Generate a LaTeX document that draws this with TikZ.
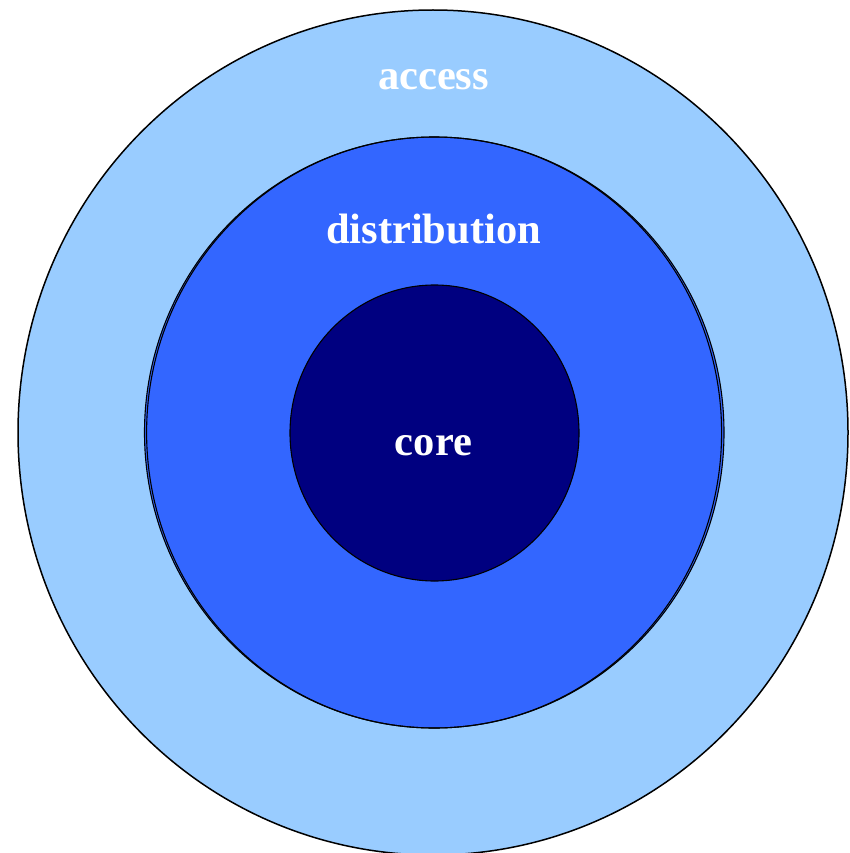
\documentclass[tikz,border=0pt]{standalone}
\usepackage{fontspec}
\setmainfont{Liberation Serif}
\usetikzlibrary{shapes.geometric}
\definecolor{accessblue}{HTML}{99CCFF}
\definecolor{distblue}{HTML}{3366FF}
\definecolor{corenavy}{HTML}{000080}
\begin{document}
\begin{tikzpicture}[x=1pt,y=-1pt,
  ring/.style={ellipse, draw=black, line width=1.5pt, inner sep=0pt},
  ringlabel/.style={text=white, font=\fontsize{42.5}{50}\selectfont\bfseries, anchor=base, inner sep=0pt}]
  \useasboundingbox (0,0) rectangle (850,853);
  % outer layer
  \node[ring, fill=accessblue, minimum width=830pt, minimum height=845pt] (access) at (433,432.5) {};
  % middle layer, drawn with a doubled outline
  \node[ring, fill=distblue, line width=1.1pt, minimum width=579.5pt, minimum height=591pt] (distribution) at (434.25,432.5) {};
  \node[ring, line width=1.1pt, minimum width=575pt, minimum height=591pt] (distribution2) at (434.1,432.5) {};
  % inner layer
  \node[ring, fill=corenavy, line width=1.1pt, minimum width=289pt, minimum height=296pt] (core) at (434.5,433) {};
  % labels
  \node[ringlabel] (accesslabel) at (433.5,90) {access};
  \node[ringlabel] (distlabel) at (433.5,243) {distribution};
  \node[ringlabel] (corelabel) at (433.5,455) {core};
\end{tikzpicture}
\end{document}
